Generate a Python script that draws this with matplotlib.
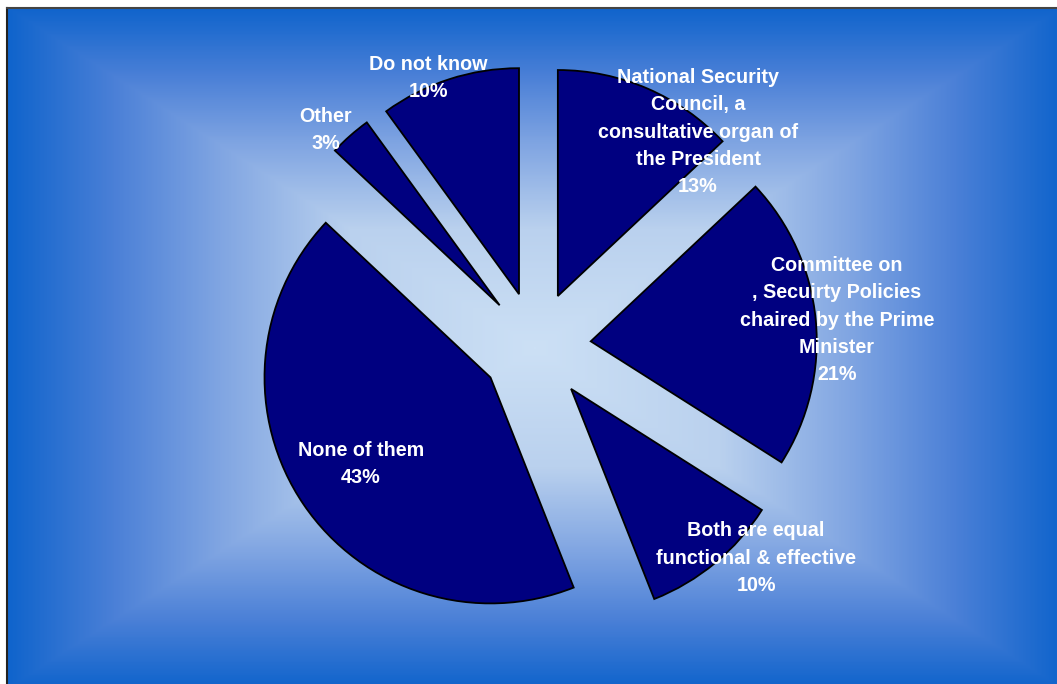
import numpy as np
import matplotlib
matplotlib.use("Agg")
import matplotlib.pyplot as plt
from matplotlib.colors import LinearSegmentedColormap

# Data
categories = [
    "National Security\nCouncil, a\nconsultative organ of\nthe President",
    "Committee on\n, Secuirty Policies\nchaired by the Prime\nMinister",
    "Both are equal\nfunctional & effective",
    "None of them",
    "Other",
    "Do not know",
]
values = [13, 21, 10, 43, 3, 10]

W, H = 1057, 684
fig = plt.figure(figsize=(W / 100, H / 100), dpi=100)
fig.patch.set_facecolor("white")
ax = fig.add_axes([0, 0, 1, 1])

# Background rectangular "from center" gradient
x0, x1 = 8, 1062
ytop, ybot = 684 - 9, 684 - 690
cx, cy = (x0 + x1) / 2, 684 - 348
nx, ny = 700, 460
xs = np.linspace(x0, x1, nx)
ys = np.linspace(ytop, ybot, ny)
X, Y = np.meshgrid(xs, ys)
t = np.maximum(np.abs(X - cx) / ((x1 - x0) / 2), np.abs(Y - cy) / ((ytop - ybot) / 2))
t = np.clip(t, 0, 1)
cmap = LinearSegmentedColormap.from_list(
    "bg",
    [(0.0, (204/255, 224/255, 245/255)),
     (0.35, (186/255, 209/255, 238/255)),
     (0.6, (128/255, 165/255, 226/255)),
     (0.8, (75/255, 128/255, 215/255)),
     (1.0, (16/255, 100/255, 204/255))],
)
ax.imshow(t, cmap=cmap, vmin=0, vmax=1, extent=(x0, x1, ybot, ytop),
          origin="upper", aspect="auto", zorder=0, interpolation="bilinear")
# Frame lines (top & left)
ax.plot([7, 7], [ybot, 684 - 8], color="#222222", lw=1.5, zorder=1)
ax.plot([7, x1], [684 - 8, 684 - 8], color="#444444", lw=1.5, zorder=1)

# Pie
R = 226
center = (536, 684 - 346.5)
explode = [55] * len(values)
wedges, _ = ax.pie(values, radius=R, center=center, startangle=90,
                   counterclock=False, explode=explode,
                   colors=["#000080"] * len(values),
                   wedgeprops=dict(edgecolor="black", linewidth=1.3),
                   frame=True)
for w in wedges:
    w.set_zorder(2)

# Labels
label_pos = [(698, 132), (837, 320), (756, 558), (361, 464), (326, 130), (428, 78)]
for cat, v, (lx, ly) in zip(categories, values, label_pos):
    ax.text(lx, 684 - ly, f"{cat}\n{v}%", ha="center", va="center",
            color="white", fontsize=14.2, fontweight="bold",
            family="Liberation Sans", linespacing=1.56, zorder=3)

ax.set_xlim(0, W)
ax.set_ylim(0, H)
ax.set_aspect("equal")
ax.axis("off")
fig.savefig("out.png", dpi=100, facecolor="white")
